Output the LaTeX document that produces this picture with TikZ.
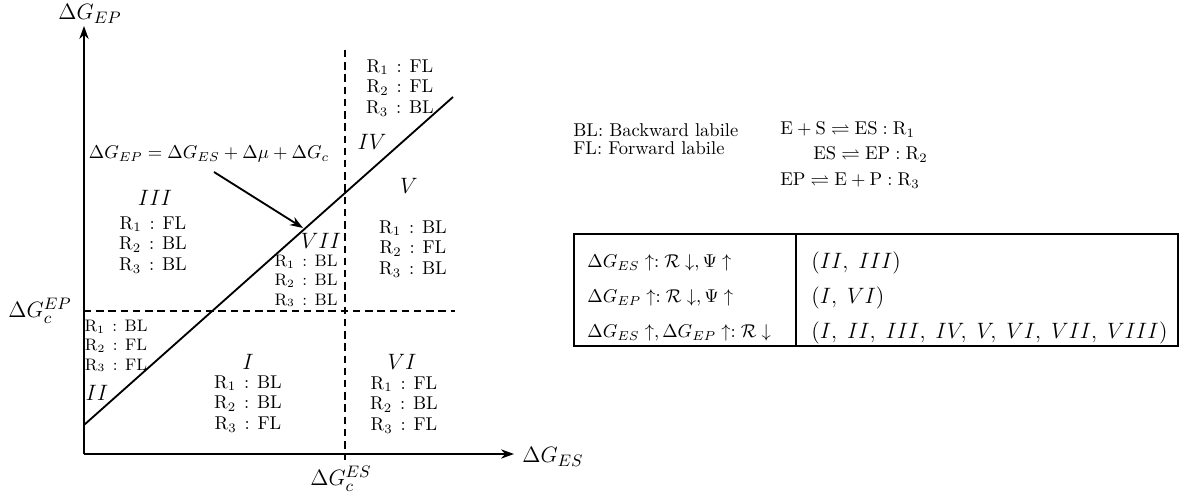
\documentclass[tikz,border=0pt]{standalone}
\usepackage{amsmath,amssymb}
\usetikzlibrary{arrows.meta}
\newcommand{\RL}[2]{$\mathrm{R}_{#1}\hspace{1.5pt}:\hspace{1.5pt}\mathrm{#2}$}
\begin{document}
\begin{tikzpicture}[x=0.54pt,y=-0.54pt,
  axis/.style={line width=1pt,-{Stealth[length=7pt,width=5pt]}},
  guide/.style={line width=0.9pt,dash pattern=on 4pt off 2.6pt},
  rlab/.style={font=\fontsize{10}{11.2}\selectfont,align=center,inner sep=0pt},
  rlabs/.style={font=\fontsize{9}{10.4}\selectfont,align=center,inner sep=0pt},
  region/.style={font=\large,inner sep=0pt},
  axlab/.style={font=\fontsize{13}{15}\selectfont,inner sep=0pt},
  tab/.style={font=\fontsize{10}{12}\selectfont,inner sep=0pt,anchor=west},
  tabr/.style={font=\fontsize{12}{14}\selectfont,inner sep=0pt,anchor=west},
  txt/.style={inner sep=0pt}]
\useasboundingbox (0,0) rectangle (1182,497);
% axes
\coordinate (O) at (84,454);
\coordinate (ytop) at (84,26);
\coordinate (xend) at (514,454);
\draw[axis] (O) -- (ytop);
\draw[axis] (O) -- (xend);
\node[axlab] (ylab) at (90,14) {$\Delta G_{EP}$};
\node[axlab] (xlab) at (553,457) {$\Delta G_{ES}$};
% guides
\coordinate (h1) at (84,311); \coordinate (h2) at (455,311);
\draw[guide] (h1) -- (h2);
\coordinate (v1) at (345,50); \coordinate (v2) at (345,460);
\draw[guide] (v1) -- (v2);
\node[axlab] (gcep) at (40,311) {$\Delta G_c^{EP}$};
\node[axlab] (gces) at (341,479) {$\Delta G_c^{ES}$};
% diagonal
\coordinate (d1) at (84,425); \coordinate (d2) at (453,97);
\draw[line width=1pt] (d1) -- (d2);
\node[txt] (eq) at (209,154) {$\Delta G_{EP}=\Delta G_{ES}+\Delta\mu+\Delta G_c$};
\coordinate (as) at (214,172); \coordinate (tip) at (303,228);
\draw[line width=1pt,-{Stealth[length=7pt,width=5pt]}] (as) -- (tip);
% regions
\node[region] (r3) at (155,198) {$III$};
\node[rlab] (r3l) at (153,245) {\RL{1}{FL}\\\RL{2}{BL}\\\RL{3}{BL}};
\node[region] (r4) at (372,142) {$IV$};
\node[rlab] (r4l) at (400,88) {\RL{1}{FL}\\\RL{2}{FL}\\\RL{3}{BL}};
\node[region] (r5) at (409,186) {$V$};
\node[rlab] (r5l) at (413,249) {\RL{1}{BL}\\\RL{2}{FL}\\\RL{3}{BL}};
\node[region] (r7) at (321,241) {$VII$};
\node[rlabs] (r7l) at (306,281) {\RL{1}{BL}\\\RL{2}{BL}\\\RL{3}{BL}};
\node[rlabs] (r2l) at (116,346) {\RL{1}{BL}\\\RL{2}{FL}\\\RL{3}{FL}};
\node[region] (r2) at (97,393) {$II$};
\node[region] (r1) at (248,362) {$I$};
\node[rlab] (r1l) at (248,404) {\RL{1}{BL}\\\RL{2}{BL}\\\RL{3}{FL}};
\node[region] (r6) at (402,362) {$VI$};
\node[rlab] (r6l) at (404,405) {\RL{1}{FL}\\\RL{2}{BL}\\\RL{3}{FL}};
% legend
\node[txt,anchor=west] (bl) at (573,130) {BL: Backward labile};
\node[txt,anchor=west] (fl) at (573,148) {FL: Forward labile};
\node[txt,anchor=west] (e1) at (780,130) {$\mathrm{E}+\mathrm{S}\rightleftharpoons \mathrm{ES}:\mathrm{R}_1$};
\node[txt,anchor=west] (e2) at (813,155) {$\mathrm{ES}\rightleftharpoons \mathrm{EP}:\mathrm{R}_2$};
\node[txt,anchor=west] (e3) at (780,181) {$\mathrm{EP}\rightleftharpoons \mathrm{E}+\mathrm{P}:\mathrm{R}_3$};
% table
\coordinate (t1) at (574,234); \coordinate (t2) at (1178,346);
\draw[line width=0.7pt] (t1) rectangle (t2);
\coordinate (c1) at (796,234); \coordinate (c2) at (796,346);
\draw[line width=0.7pt] (c1) -- (c2);
\node[tab] (a1) at (587,263) {$\Delta G_{ES}\uparrow:\mathcal{R}\downarrow,\Psi\uparrow$};
\node[tab] (a2) at (587,298) {$\Delta G_{EP}\uparrow:\mathcal{R}\downarrow,\Psi\uparrow$};
\node[tab] (a3) at (587,333) {$\Delta G_{ES}\uparrow,\Delta G_{EP}\uparrow:\mathcal{R}\downarrow$};
\node[tabr] (b1) at (811,263) {$(II,\;III)$};
\node[tabr] (b2) at (811,298) {$(I,\;VI)$};
\node[tabr] (b3) at (811,333) {$(I,\;II,\;III,\;IV,\;V,\;VI,\;VII,\;VIII)$};
\end{tikzpicture}
\end{document}
